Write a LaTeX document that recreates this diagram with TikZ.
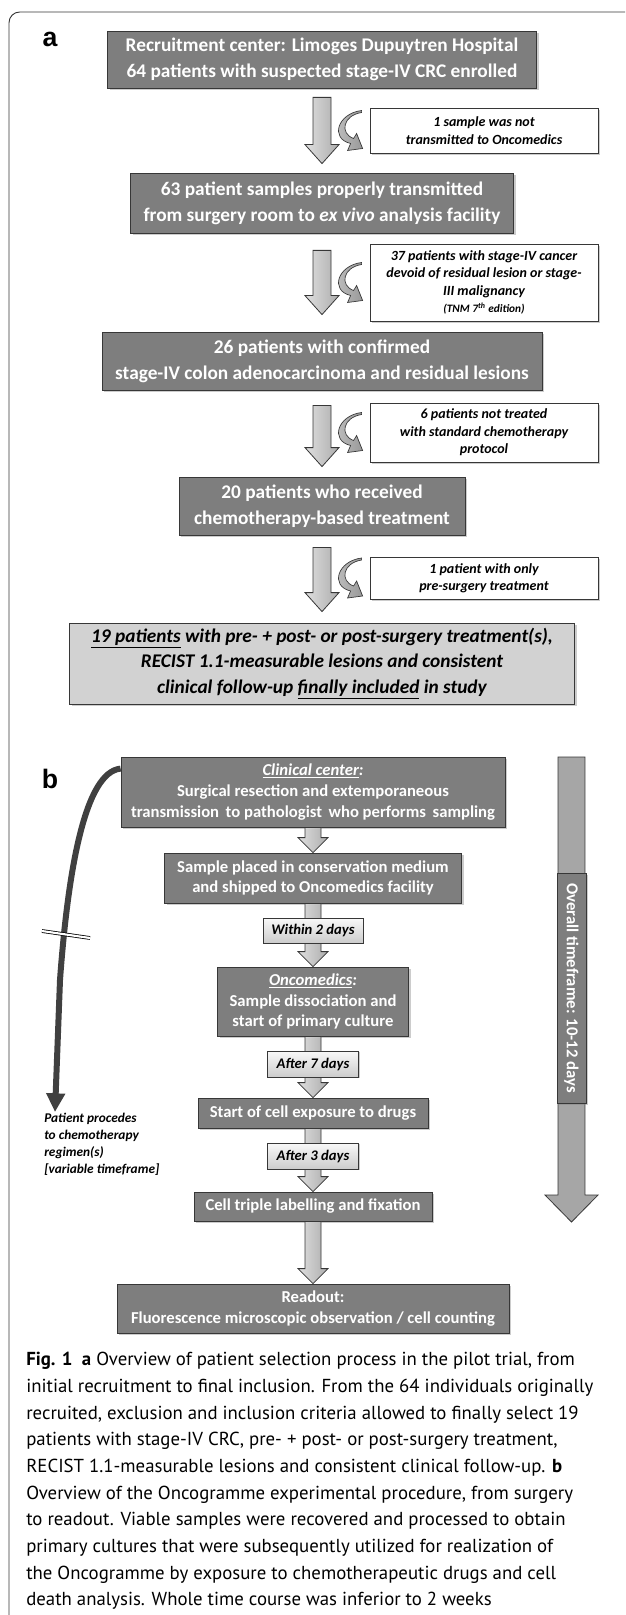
\documentclass[tikz,border=0pt]{standalone}
\usepackage{fontspec}
\setmainfont{Carlito}
\newfontfamily\capfont{PT Sans}
\newfontfamily\tagfont{Liberation Sans}
\usetikzlibrary{calc,shadows,arrows.meta}

\definecolor{boxgray}{RGB}{126,126,126}
\definecolor{edgegray}{RGB}{55,55,55}

% block arrow: [style] from, to, half shaft, half head, head length
\newcommand{\fatarrow}[6][fat]{%
  \path[#1] let \p1=(#2), \p2=(#3) in
    (\x1-#4,\y1) -- (\x1+#4,\y1) -- (\x1+#4,\y2+#6) -- (\x1+#5,\y2+#6)
    -- (\x1,\y2) -- (\x1-#5,\y2+#6) -- (\x1-#4,\y2+#6) -- cycle;}

% curved arrow in front of an exclusion box
\newcommand{\sidecurl}[1]{%
  \begin{scope}[shift={(#1)}]
    \path[curl] (-8,-20) .. controls (-32,-17) and (-40,8) .. (-19,13) -- (-22,20) -- (-7,18)
      -- (-13,3) -- (-16,8) .. controls (-30,3) and (-27,-15) .. (-8,-18) -- cycle;
  \end{scope}}

\begin{document}
\begin{tikzpicture}[x=0.75pt, y=-0.75pt, every node/.style={align=center, inner sep=2pt}]
	\tikzstyle{main} = [draw=edgegray, line width=0.6pt, fill=boxgray, text=white, font=\fontsize{14.5}{19.5}\selectfont\bfseries, drop shadow={shadow xshift=1.5pt, shadow yshift=-1.5pt, opacity=0.4}]
	\tikzstyle{final} = [main, fill=gray!35, text=black, font=\fontsize{14.5}{19}\selectfont\bfseries\itshape]
	\tikzstyle{stepb} = [main, font=\fontsize{12.5}{15.5}\selectfont\bfseries]
	\tikzstyle{side} = [draw=edgegray, line width=0.6pt, fill=white, font=\fontsize{10.5}{13}\selectfont\bfseries\itshape, drop shadow={shadow xshift=1.5pt, shadow yshift=-1.5pt, opacity=0.4}]
	\tikzstyle{tag} = [draw=edgegray, line width=0.6pt, top color=gray!5, bottom color=gray!40, font=\fontsize{11}{13}\selectfont\bfseries\itshape, drop shadow={shadow xshift=1pt, shadow yshift=-1pt, opacity=0.4}]
	\tikzstyle{fat} = [draw=edgegray, line width=0.6pt, left color=gray!25, right color=gray!65]
	\tikzstyle{curl} = [draw=edgegray, line width=0.5pt, left color=gray!45, right color=gray!80]
	\tikzstyle{timeline} = [draw=edgegray, line width=0.6pt, fill=gray!70]
	\tikzstyle{lifeline} = [draw=black!75, line width=4.5pt, -{Triangle[width=13.5pt, length=14pt]}]
	\tikzstyle{breakmark} = [draw=black, line width=0.6pt, double=white, double distance=1.6pt]
	\tikzstyle{letter} = [inner sep=0pt, font=\tagfont\bfseries\fontsize{20}{24}\selectfont]
	\tikzstyle{note} = [inner sep=0pt, align=left, font=\fontsize{10}{12.75}\selectfont\bfseries\itshape]
	\tikzstyle{caption} = [inner sep=0pt, align=left, font=\capfont\fontsize{14.1}{20}\selectfont]
	\useasboundingbox (0,0) rectangle (625,1615);
	\draw[edgegray, line width=0.7pt, rounded corners=8pt] (9,1615) |- (625,12);

	% a: patient selection
	\node[letter, anchor=base] (la) at (50,47) {a};
	\node[main, minimum width=321.75pt, minimum height=42.75pt] (r1) at (322,59.5) {Recruitment center: Limoges Dupuytren Hospital\\64 patients with suspected stage-IV CRC enrolled};
	\node[main, minimum width=287.25pt, minimum height=45pt] (r2) at (322,203) {63 patient samples properly transmitted\\from surgery room to \textit{ex vivo} analysis facility};
	\node[main, minimum width=330pt, minimum height=43.5pt] (r3) at (322,361) {26 patients with confirmed\\stage-IV colon adenocarcinoma and residual lesions};
	\node[main, minimum width=214.5pt, minimum height=43.5pt] (r4) at (322,506) {20 patients who received\\chemotherapy-based treatment};
	\node[final, minimum width=378.75pt, minimum height=60.75pt] (r5) at (322,663.5) {\underline{19 patients} with pre- + post- or post-surgery treatment(s),\\RECIST 1.1-measurable lesions and consistent\\clinical follow-up \underline{finally included} in study};
	\node[side, minimum width=171pt, minimum height=33.75pt] (s1) at (484,130.5) {1 sample was not\\transmitted to Oncomedics};
	\node[side, minimum width=171pt, minimum height=57.75pt] (s2) at (484,282.5) {37 patients with stage-IV cancer\\devoid of residual lesion or stage-\\III malignancy\\{\fontsize{8.5}{10}\selectfont (TNM 7\textsuperscript{th} edition)}};
	\node[side, minimum width=171pt, minimum height=44.25pt] (s3) at (484,432.5) {6 patients not treated\\with standard chemotherapy\\protocol};
	\node[side, minimum width=171pt, minimum height=31.5pt] (s4) at (484,578) {1 patient with only\\pre-surgery treatment};
	\fatarrow{$(r1.south)+(0,9)$}{$(r2.north)+(0,-9)$}{6.75pt}{12.75pt}{14.25pt}
	\fatarrow{$(r2.south)+(0,17)$}{$(r3.north)+(0,-17)$}{6.75pt}{12.75pt}{14.25pt}
	\fatarrow{$(r3.south)+(0,15)$}{$(r4.north)+(0,-10)$}{6.75pt}{12.75pt}{14.25pt}
	\fatarrow{$(r4.south)+(0,12)$}{$(r5.north)+(0,-11)$}{6.75pt}{12.75pt}{14.25pt}
	\sidecurl{s1.west}
	\sidecurl{s2.west}
	\sidecurl{s3.west}
	\sidecurl{s4.west}

	% b: Oncogramme procedure
	\node[letter, anchor=base] (lb) at (50,788) {b};
	\node[stepb, minimum width=288pt, minimum height=52.5pt] (b1) at (313,792) {\textit{\underline{Clinical center}:}\\Surgical resection and extemporaneous\\transmission\, to pathologist\, who performs\, sampling};
	\node[stepb, minimum width=222.75pt, minimum height=37.5pt] (b2) at (313,878) {Sample placed in conservation medium\\and shipped to Oncomedics facility};
	\node[stepb, minimum width=143.25pt, minimum height=51.75pt] (b3) at (313,1001.5) {\textit{\underline{Oncomedics}:}\\Sample dissociation and\\start of primary culture};
	\node[stepb, minimum width=172.5pt, minimum height=22.5pt] (b4) at (313,1113) {Start of cell exposure to drugs};
	\node[stepb, minimum width=178.5pt, minimum height=21.75pt] (b5) at (313,1206.5) {Cell triple labelling and fixation};
	\node[stepb, minimum width=294pt, minimum height=36.75pt] (b6) at (313,1308.5) {Readout:\\Fluorescence microscopic observation / cell counting};
	\fatarrow{b1.south}{b2.north}{6pt}{11.25pt}{11.25pt}
	\fatarrow{b2.south}{b3.north}{6pt}{11.25pt}{11.25pt}
	\fatarrow{b3.south}{b4.north}{6pt}{11.25pt}{11.25pt}
	\fatarrow{b4.south}{b5.north}{6pt}{11.25pt}{11.25pt}
	\fatarrow{b5.south}{b6.north}{6pt}{11.25pt}{11.25pt}
	\node[tag, minimum width=75pt, minimum height=18.75pt] (t1) at (313,930.5) {Within 2 days};
	\node[tag, minimum width=68.25pt, minimum height=19.5pt] (t2) at (313,1064) {After 7 days};
	\node[tag, minimum width=68.25pt, minimum height=19.5pt] (t3) at (313,1156) {After 3 days};

	\coordinate (ttop) at (571.5,757);
	\coordinate (ttip) at (571.5,1222);
	\fatarrow[timeline]{ttop}{ttip}{10.1pt}{19.9pt}{20.25pt}
	\node[main, rotate=-90, minimum width=172.5pt, minimum height=21.75pt, font=\fontsize{12.5}{15}\selectfont\bfseries] (tframe) at (571.5,988) {Overall timeframe: 10-12 days};

	\coordinate (pend) at (55,1112);
	\draw[lifeline] ($(b1.north west)+(0,12)$) .. controls (85,772) and (68,870) .. (60,980) -- (pend);
	\draw[breakmark] (42,931) -- (90,938);
	\node[note, anchor=north west] (pnote) at (44,1113) {Patient procedes\\to chemotherapy\\regimen(s)\\{[variable timeframe]}};

	\node[caption, anchor=north west] (cap) at (26,1352) {\textbf{Fig. 1}\enspace\textbf{a} Overview of patient selection process in the pilot trial, from\\initial recruitment to final inclusion. From the 64 individuals originally\\recruited, exclusion and inclusion criteria allowed to finally select 19\\patients with stage-IV CRC, pre- + post- or post-surgery treatment,\\RECIST 1.1-measurable lesions and consistent clinical follow-up. \textbf{b}\\Overview of the Oncogramme experimental procedure, from surgery\\to readout. Viable samples were recovered and processed to obtain\\primary cultures that were subsequently utilized for realization of\\the Oncogramme by exposure to chemotherapeutic drugs and cell\\death analysis. Whole time course was inferior to 2 weeks};
\end{tikzpicture}
\end{document}
